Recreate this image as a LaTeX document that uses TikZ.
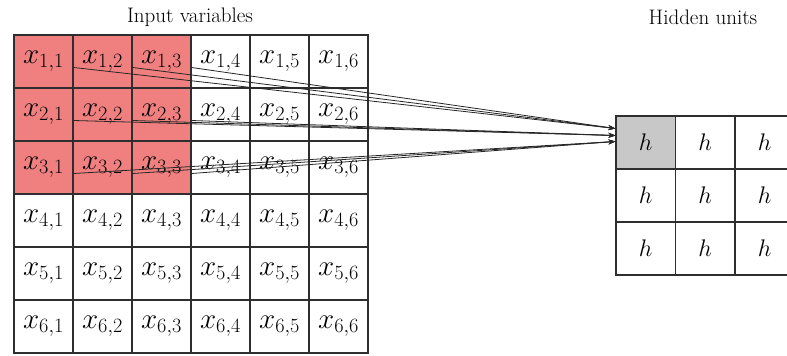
\documentclass[tikz,border=0pt]{standalone}
\usepackage{fix-cm}
\usepackage{fontspec}
\usetikzlibrary{arrows.meta, positioning}
\definecolor{inputRed}{HTML}{F08080}
\definecolor{hiddenGray}{HTML}{C8C8C8}
\definecolor{gridLine}{HTML}{2E2E2E}

\tikzset{
  cell/.style={draw=gridLine, line width=1.2pt, minimum width=59pt, minimum height=53pt, inner sep=0pt, font=\fontsize{29}{32}\selectfont},
  hcell/.style={cell, minimum width=59.5pt, font=\fontsize{24}{27}\selectfont},
  link/.style={->, draw=black!85, line width=0.8pt},
  title/.style={font=\rmfamily\fontsize{21}{25}\selectfont}
}

\begin{document}
\begin{tikzpicture}[>={Stealth[length=7pt,width=5pt]}, x=1pt, y=-1pt]
	\useasboundingbox (0,0) rectangle (787,356);

	% titles
	\node[title] (in-title) at (190,17) {Input variables};
	\node[title] (hid-title) at (703,17) {Hidden units};

	% receptive field and the unit it feeds
	\fill[inputRed] (14,35) rectangle (191,194);
	\fill[hiddenGray] (616,116) rectangle (675.5,169);

	% input grid
	\foreach \i in {1,...,6}
		\foreach \j in {1,...,6}
			\node[cell] (x-\i-\j) at ({43.5+59*(\j-1)}, {61.5+53*(\i-1)}) {$x_{\i,\j}$};

	% hidden grid
	\foreach \i in {1,2,3}
		\foreach \j in {1,2,3}
			\node[hcell] (h-\i-\j) at ({645.75+59.5*(\j-1)}, {142.5+53*(\i-1)}) {$h$};

	% connections
	\foreach \i/\s in {1/14, 2/7, 3/1}
		\foreach \j in {1,2,3}
			\draw[link] ([yshift=-6pt]x-\i-\j.east) -- ([yshift=\s pt]h-1-1.west);
\end{tikzpicture}
\end{document}
